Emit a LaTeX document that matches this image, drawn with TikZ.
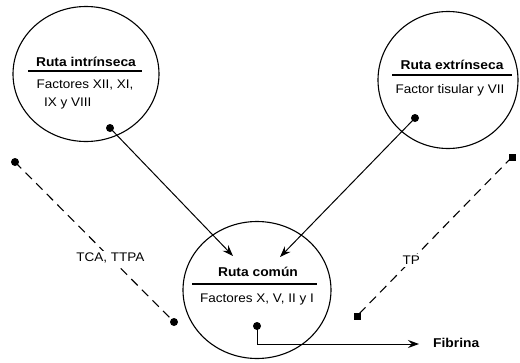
\documentclass[tikz,border=0pt]{standalone}
\usepackage{fontspec}
\setmainfont[FakeStretch=1.08]{Liberation Sans}
\usetikzlibrary{shapes.geometric,arrows.meta}
\begin{document}
\begin{tikzpicture}[x=1pt,y=-1pt,
  ring/.style={draw, ellipse, line width=1.1pt, inner sep=0pt},
  ttl/.style={font=\fontsize{12.8}{14}\selectfont\bfseries, inner sep=0pt},
  body/.style={font=\fontsize{12.5}{14}\selectfont, inner sep=0pt},
  rule/.style={line width=1.8pt},
  dot/.style={circle, fill, inner sep=0pt, minimum size=8pt},
  sq/.style={rectangle, fill, inner sep=0pt, minimum size=7pt},
  conn/.style={line width=1pt},
  arr/.style={conn, -{Stealth[length=11pt,width=8pt,inset=4pt]}},
  dsh/.style={line width=1.1pt, dash pattern=on 9pt off 6pt},
  lbl/.style={font=\fontsize{12.5}{14}\selectfont, fill=white, inner sep=1.5pt}
]
\useasboundingbox[fill=white] (0,0) rectangle (520,362);

% Ruta intrinseca
\node[ring, minimum width=146pt, minimum height=135pt] (intr) at (86,74) {};
\node[ttl] (intrT) at (86,62) {Ruta intrínseca};
\draw[rule] (28,71) -- (142,71);
\node[body] (intrB1) at (85,85) {Factores XII, XI,};
\node[body, anchor=west] (intrB2) at (44,103) {IX y VIII};
\node[dot] (intrD) at (110,128) {};

% Ruta extrinseca
\node[ring, minimum width=140pt, minimum height=137pt] (extr) at (448,80) {};
\node[ttl] (extrT) at (452,65) {Ruta extrínseca};
\draw[rule] (392,75) -- (512,75);
\node[body] (extrB) at (450,90) {Factor tisular y VII};
\node[dot] (extrD) at (415,118) {};

% Ruta comun
\node[ring, minimum width=148pt, minimum height=137pt] (comun) at (257,290) {};
\node[ttl] (comunT) at (258,272) {Ruta común};
\draw[rule] (192,284) -- (317,284);
\node[body] (comunB) at (257,299) {Factores X, V, II y I};
\node[dot] (comunD) at (257,326) {};

% arrows into comun
\coordinate (tipA) at (233,256);
\coordinate (tipB) at (280,257);
\draw[arr] (intrD.center) -- (tipA);
\draw[arr] (extrD.center) -- (tipB);

% Fibrina
\node[font=\fontsize{12.8}{14}\selectfont\bfseries, anchor=west, inner sep=0pt] (fib) at (433,343) {Fibrina};
\coordinate (corner) at (257,344);
\draw[arr] (comunD.center) -- (corner) -- (419,344);

% TCA, TTPA dashed
\node[dot] (tca1) at (15,162) {};
\node[dot] (tca2) at (174,322) {};
\draw[dsh] (tca1.center) -- node[lbl, pos=0.6] {TCA, TTPA} (tca2.center);

% TP dashed
\node[sq] (tp1) at (512,157) {};
\node[sq] (tp2) at (357,316) {};
\draw[dsh] (tp1.center) -- node[lbl, pos=0.65, inner sep=2pt] {TP} (tp2.center);
\end{tikzpicture}
\end{document}
